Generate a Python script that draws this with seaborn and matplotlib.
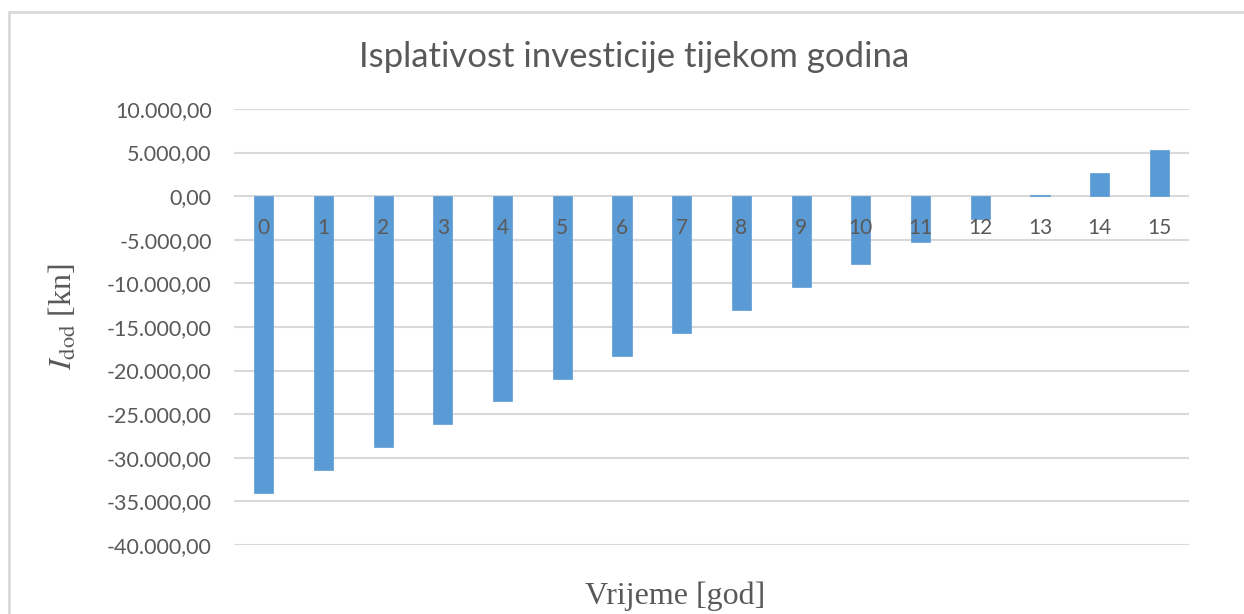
import matplotlib
matplotlib.use("Agg")
import matplotlib.pyplot as plt
from matplotlib.lines import Line2D
import seaborn as sns
import pandas as pd

years = [str(i) for i in range(16)]
values = [-34020, -31400, -28780, -26160, -23540, -20920, -18300, -15680,
          -13060, -10440, -7820, -5200, -2580, 80, 2660, 5280]
yticks = [10000, 5000, 0, -5000, -10000, -15000, -20000, -25000, -30000, -35000, -40000]
ytick_labels = ["10.000,00", "5.000,00", "0,00", "-5.000,00", "-10.000,00", "-15.000,00",
                "-20.000,00", "-25.000,00", "-30.000,00", "-35.000,00", "-40.000,00"]
title = "Isplativost investicije tijekom godina"
xlabel = "Vrijeme [god]"
ylabel = r"$I_{\mathrm{dod}}$ [kn]"

sns.set_theme(style="white")
plt.rcParams['font.family'] = ['Lato', 'DejaVu Sans']
plt.rcParams['mathtext.fontset'] = 'stix'

TXT = "#595959"
GRID = "#d9d9d9"
BAR = "#5b9bd5"

fig = plt.figure(figsize=(12.44, 6.14), dpi=100)
ax = fig.add_axes([0.188, 0.1124, 0.768, 0.7101])

df = pd.DataFrame({"year": years, "value": values})
sns.barplot(data=df, x="year", y="value", color=BAR, saturation=1, width=0.32, ax=ax,
            zorder=2, edgecolor=BAR, linewidth=0.5)

ax.set_ylim(-40000, 10000)
ax.set_xlim(-0.5, 15.5)
ax.set_yticks(yticks)
ax.set_yticklabels(ytick_labels)
ax.tick_params(axis='y', length=0, pad=16, labelsize=15.5, labelcolor=TXT)
ax.set_xticks([])
ax.set_xlabel("")
ax.set_ylabel("")
for y in yticks:
    ax.axhline(y, color=GRID, lw=1.5, zorder=1)
for s in ax.spines.values():
    s.set_visible(False)

for i, lab in enumerate(years):
    ax.annotate(lab, xy=(i, 0), xytext=(0, -32), textcoords='offset pixels',
                ha='center', va='center', fontsize=15, color=TXT, zorder=5)

fig.text(634 / 1244, 1 - 57 / 614, title, ha='center', va='center', fontsize=25,
         color=TXT, fontweight='normal')
fig.text(675 / 1244, 1 - 596 / 614, xlabel, ha='center', va='center', fontsize=23,
         color=TXT, family='Liberation Serif')
fig.text(63 / 1244, 1 - 317 / 614, ylabel, ha='center', va='center', fontsize=23,
         color=TXT, family='Liberation Serif', rotation=90)

fig.add_artist(Line2D([9 / 1244, 9 / 1244], [0, 1 - 11.5 / 614], color=GRID, lw=2))
fig.add_artist(Line2D([9 / 1244, 1], [1 - 11.5 / 614, 1 - 11.5 / 614], color=GRID, lw=2))

fig.savefig("out.png", dpi=100)
